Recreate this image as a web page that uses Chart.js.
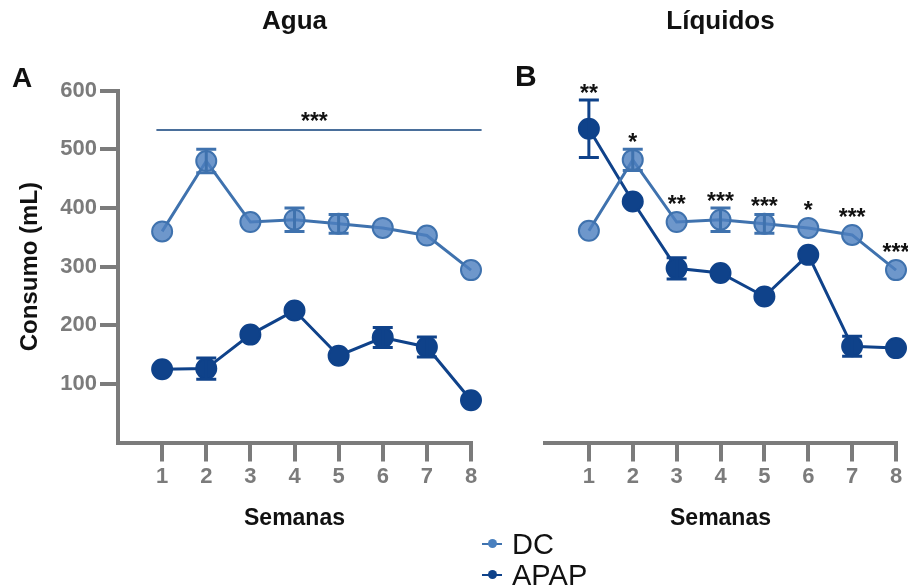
<!DOCTYPE html>
<html>
<head>
<meta charset="utf-8">
<script src="https://cdn.jsdelivr.net/npm/chart.js@4"></script>
<style>
  body { margin: 0; background: #fff; width: 908px; height: 586px; overflow: hidden; position: relative; font-family: "Liberation Sans", Arial, sans-serif; }
  canvas { position: absolute; top: 0; }
  .panel { position: absolute; font-weight: bold; line-height: 1; color: #111; }
  .leg { position: absolute; left: 482px; font-size: 29px; line-height: 1; color: #111; }
  .leg .ln { position: absolute; left: 0; width: 20px; height: 2px; }
  .leg .dot { position: absolute; left: 6px; width: 9px; height: 9px; border-radius: 50%; }
  .leg span.t { position: absolute; left: 30px; top: 0; white-space: nowrap; }
</style>
</head>
<body>
<canvas id="agua-chart" width="490" height="540" style="left:0;width:490px;height:540px"></canvas>
<canvas id="liquidos-chart" width="418" height="540" style="left:490px;width:418px;height:540px"></canvas>

<div class="panel" style="left:12px;top:64px;font-size:28px">A</div>
<div class="panel" style="left:515px;top:61px;font-size:30px">B</div>

<div class="leg" style="top:530px">
  <div class="ln" style="top:13px;background:#3f72ae"></div>
  <div class="dot" style="top:9px;background:#4a80bf"></div>
  <span class="t">DC</span>
</div>
<div class="leg" style="top:561px">
  <div class="ln" style="top:13px;background:#0f428a"></div>
  <div class="dot" style="top:9px;background:#0f428a"></div>
  <span class="t">APAP</span>
</div>

<script>
// -------------- data --------------
const weeks = [1, 2, 3, 4, 5, 6, 7, 8];
const yTicks = [100, 200, 300, 400, 500, 600];

// Agua
const aguaDC = [360, 480, 376, 380, 373, 366, 353, 294];
const aguaDCsem = [0, 20, 0, 20, 16, 0, 0, 0];
const aguaAPAP = [125, 126, 184, 225, 148, 179, 163, 72];
const aguaAPAPsem = [0, 18, 0, 0, 0, 17, 17, 0];
// significance bar over the whole panel: [from week, to week, at mL]
const aguaSigBar = [0.87, 8.24, 533];
const aguaSigLabel = '***';
const aguaSigLabelX = 4.45;

// Liquidos
const liqDC = [361, 482, 376, 380, 373, 366, 354, 294];
const liqDCsem = [0, 18, 0, 20, 16, 0, 0, 0];
const liqAPAP = [535, 411, 297, 289, 249, 320, 164, 161];
const liqAPAPsem = [49, 0, 18, 0, 0, 0, 17, 0];
const liqStars = ['**', '*', '**', '***', '***', '*', '***', '***'];

const dcColor = '#3f72ae';
const dcFill = 'rgba(78, 128, 192, 0.82)';
const apapColor = '#0f428a';
const axisGray = '#7b7b7b';
const fontFam = '"Liberation Sans", Arial, sans-serif';
const pointR = 10;

const toXY = vals => weeks.map((w, i) => ({ x: w, y: vals[i] }));

// error bars drawn through the chart scales
const errorBars = {
    id: 'errorBars',
    afterDatasetsDraw(chart) {
        const { ctx, scales: { x, y } } = chart;
        chart.data.datasets.forEach(ds => {
            ctx.save();
            ctx.strokeStyle = ds.borderColor;
            ctx.lineWidth = 3;
            ds.sem.forEach((s, i) => {
                if (!s) return;
                const px = x.getPixelForValue(weeks[i]);
                const top = y.getPixelForValue(ds.data[i].y + s);
                const bot = y.getPixelForValue(ds.data[i].y - s);
                ctx.beginPath();
                ctx.moveTo(px, top); ctx.lineTo(px, bot);
                ctx.moveTo(px - 10, top); ctx.lineTo(px + 10, top);
                ctx.moveTo(px - 10, bot); ctx.lineTo(px + 10, bot);
                ctx.stroke();
            });
            ctx.restore();
        });
    }
};

// significance marks
const sigMarks = {
    id: 'sigMarks',
    afterDraw(chart, args, opts) {
        const { ctx, scales: { x, y } } = chart;
        ctx.save();
        ctx.fillStyle = '#111';
        ctx.font = 'bold 23px ' + fontFam;
        ctx.textAlign = 'center';
        ctx.textBaseline = 'alphabetic';
        if (opts.bar) {
            const by = y.getPixelForValue(opts.bar[2]);
            ctx.strokeStyle = '#4a6f9b';
            ctx.lineWidth = 2;
            ctx.beginPath();
            ctx.moveTo(x.getPixelForValue(opts.bar[0]), by);
            ctx.lineTo(x.getPixelForValue(opts.bar[1]), by);
            ctx.stroke();
            ctx.fillText(opts.label, x.getPixelForValue(opts.labelX), by - 1);
        }
        if (opts.stars) {
            opts.stars.forEach((st, i) => {
                let top = Infinity;
                chart.data.datasets.forEach(ds => {
                    const v = ds.data[i].y;
                    top = Math.min(top, y.getPixelForValue(v + ds.sem[i]), y.getPixelForValue(v) - pointR - 1);
                });
                ctx.fillText(st, x.getPixelForValue(weeks[i]), top + 1);
            });
        }
        ctx.restore();
    }
};

function makeDatasets(dc, dcSem, apap, apapSem) {
    return [{
        label: 'DC',
        data: toXY(dc),
        sem: dcSem,
        borderColor: dcColor,
        backgroundColor: dcFill,
        pointBackgroundColor: dcFill,
        pointBorderColor: dcColor,
        borderWidth: 3,
        pointRadius: pointR,
        pointBorderWidth: 2,
        clip: false
    }, {
        label: 'APAP',
        data: toXY(apap),
        sem: apapSem,
        borderColor: apapColor,
        backgroundColor: apapColor,
        pointBackgroundColor: apapColor,
        pointBorderColor: apapColor,
        borderWidth: 3,
        pointRadius: pointR,
        pointBorderWidth: 2,
        clip: false
    }];
}

function makeOptions(title, showY, padding, sig) {
    return {
        responsive: false,
        animation: false,
        events: [],
        layout: { padding: padding },
        plugins: {
            legend: { display: false },
            tooltip: { enabled: false },
            title: {
                display: true,
                text: title,
                fullSize: false,
                color: '#111',
                font: { family: fontFam, size: 26, weight: 'bold', lineHeight: 1.2 },
                padding: { top: 6.4, bottom: 53.1 }
            },
            sigMarks: sig
        },
        scales: {
            x: {
                type: 'linear',
                min: 0,
                max: 8,
                afterBuildTicks: axis => { axis.ticks = axis.ticks.filter(t => t.value > 0); },
                afterFit: scale => { scale.height = 89.5; },
                ticks: {
                    stepSize: 1,
                    autoSkip: false,
                    maxRotation: 0,
                    color: axisGray,
                    padding: 2,
                    font: { family: fontFam, size: 22, weight: 'bold', lineHeight: 1.2 }
                },
                grid: { drawOnChartArea: false, tickLength: 19, tickWidth: 4, tickColor: axisGray, lineWidth: 4, color: axisGray },
                border: { display: true, width: 4, color: axisGray },
                title: {
                    display: true,
                    text: 'Semanas',
                    color: '#111',
                    padding: { top: 0, bottom: 0 },
                    font: { family: fontFam, size: 23, weight: 'bold', lineHeight: 1.2 }
                }
            },
            y: {
                display: showY,
                min: 0,
                max: 600,
                afterBuildTicks: axis => { axis.ticks = yTicks.map(v => ({ value: v })); },
                afterFit: scale => { if (showY) scale.width = 118; },
                ticks: {
                    color: axisGray,
                    padding: 3,
                    font: { family: fontFam, size: 22, weight: 'bold', lineHeight: 1.2 }
                },
                grid: { drawOnChartArea: false, tickLength: 18, tickWidth: 4, tickColor: axisGray, lineWidth: 4, color: axisGray },
                border: { display: true, width: 4, color: axisGray },
                title: {
                    display: true,
                    text: 'Consumo (mL)',
                    color: '#111',
                    padding: { top: 16, bottom: 0 },
                    font: { family: fontFam, size: 24, weight: 'bold', lineHeight: 1.2 }
                }
            }
        }
    };
}

// -------------- Agua --------------
const aguaChart = new Chart(document.getElementById('agua-chart'), {
    type: 'line',
    data: { datasets: makeDatasets(aguaDC, aguaDCsem, aguaAPAP, aguaAPAPsem) },
    options: makeOptions('Agua', true, { left: 0, right: 19, top: 0, bottom: 8 },
        { bar: aguaSigBar, label: aguaSigLabel, labelX: aguaSigLabelX }),
    plugins: [errorBars, sigMarks]
});

// -------------- Liquidos --------------
const liqChart = new Chart(document.getElementById('liquidos-chart'), {
    type: 'line',
    data: { datasets: makeDatasets(liqDC, liqDCsem, liqAPAP, liqAPAPsem) },
    options: makeOptions('Líquidos', false, { left: 55, right: 10.3, top: 0, bottom: 8 },
        { stars: liqStars }),
    plugins: [errorBars, sigMarks]
});
</script>
</body>
</html>
